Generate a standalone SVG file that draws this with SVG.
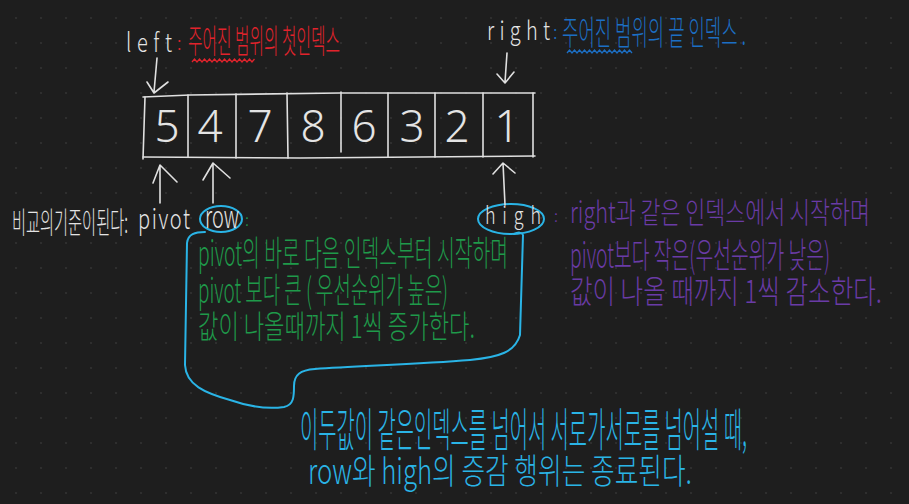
<svg xmlns="http://www.w3.org/2000/svg" width="909" height="504" viewBox="0 0 909 504">
<defs>
<pattern id="dots" x="4" y="6" width="25" height="25" patternUnits="userSpaceOnUse">
<circle cx="12" cy="12" r="1.1" fill="#323232"/>
</pattern>
<style>
.t{font-family:"Noto Sans CJK KR","Noto Sans",sans-serif;font-weight:300}
.w{fill:#e4e4e4}
.r{fill:#e2232c}
.b{fill:#1c6fc4}
.c{fill:#2ab4e6}
.p{fill:#6a3ba6}
.g{fill:#1f9a4a}
.ln{fill:none;stroke:#e0e0e0;stroke-width:1.6;stroke-linecap:round;stroke-linejoin:round}
.cy{fill:none;stroke:#2ab4e6;stroke-width:2;stroke-linecap:round;stroke-linejoin:round}
.dg{font-family:"Noto Sans","DejaVu Sans",sans-serif;font-weight:300;font-size:44px;fill:#e4e4e4;text-anchor:middle}
</style>
</defs>
<rect width="909" height="504" fill="#1e1e1e"/>
<rect width="909" height="504" fill="url(#dots)"/>

<g id="label-left">
<text class="t w" transform="translate(126 52) scale(1 1.3)" font-size="20" textLength="46" lengthAdjust="spacing">left</text>
<text class="t r" x="177" y="50" font-size="18">:</text>
<text class="t r" transform="translate(188 53) scale(1 2.05)" font-size="16" textLength="152" lengthAdjust="spacingAndGlyphs">주어진 범위의 첫인덱스</text>
<path d="M192 62 l2.5 -3 l2.5 3 l2.5 -3 l2.5 3 l2.5 -3 l2.5 3 l2.5 -3 l2.5 3 l2.5 -3 l2.5 3 l2.5 -3 l2.5 3 l2.5 -3 l2.5 3 l2.5 -3 l2.5 3 l2.5 -3 l2.5 3 l2.5 -3 l2.5 3 l2.5 -3 l2.5 3 l2.5 -3 l2.5 3 l2.5 -3" fill="none" stroke="#e2232c" stroke-width="1.3"/>
</g>

<g id="label-right">
<text class="t w" transform="translate(487 40) scale(1 1.3)" font-size="20" textLength="63" lengthAdjust="spacing">right</text>
<text class="t b" x="553" y="39" font-size="18">:</text>
<text class="t b" transform="translate(562 45) scale(1 2.1)" font-size="16" textLength="184" lengthAdjust="spacingAndGlyphs">주어진 범위의 끝 인덱스 .</text>
<path d="M567 53 l2.5 -3 l2.5 3 l2.5 -3 l2.5 3 l2.5 -3 l2.5 3 l2.5 -3 l2.5 3 l2.5 -3 l2.5 3 l2.5 -3 l2.5 3 l2.5 -3 l2.5 3 l2.5 -3 l2.5 3 l2.5 -3 l2.5 3 l2.5 -3 l2.5 3 l2.5 -3 l2.5 3 l2.5 -3 l2.5 3 l2.5 -3 l2.5 3" fill="none" stroke="#1c6fc4" stroke-width="1.3"/>
</g>

<g id="array">
<path class="ln" d="M143 97 L190 95 L340 93 L535 93"/>
<path class="ln" d="M143 157 L300 158 L535 156"/>
<path class="ln" d="M145 97 L143 159"/>
<path class="ln" d="M533 93 L533 157"/>
<path class="ln" d="M188 95 L188 157 M236 94 L236 158 M287 93 L288 158 M341 92 L341 152 M388 93 L388 157 M435 93 L435 157 M483 93 L483 157"/>
<text class="dg" x="167" y="142">5</text>
<text class="dg" x="210" y="142">4</text>
<text class="dg" x="260" y="142">7</text>
<text class="dg" x="313" y="142">8</text>
<text class="dg" x="364" y="142">6</text>
<text class="dg" x="412" y="142">3</text>
<text class="dg" x="457" y="142">2</text>
<text class="dg" x="507" y="142">1</text>
</g>

<g id="label-pivot">
<text class="t w" transform="translate(12 233) scale(1 1.95)" font-size="15" textLength="116" lengthAdjust="spacingAndGlyphs">비교의기준이된다:</text>
<text class="t w" transform="translate(138 229) scale(1 1.4)" font-size="20" textLength="52" lengthAdjust="spacing">pivot</text>
</g>

<g id="label-row">
<ellipse class="cy" cx="221" cy="219" rx="21" ry="13"/>
<text class="t w" transform="translate(205 228) scale(1 1.4)" font-size="22" textLength="34" lengthAdjust="spacingAndGlyphs">row</text>
<text class="t g" x="245" y="226" font-size="16">:</text>
</g>

<g id="label-high">
<ellipse class="cy" cx="511" cy="219" rx="33" ry="15"/>
<text class="t w" transform="translate(485 224) scale(1 1.35)" font-size="18" textLength="56" lengthAdjust="spacing">high</text>
<text class="t p" x="554" y="222" font-size="16">:</text>
</g>

<g id="note-row">
<text class="t g" transform="translate(198 266) scale(1 1.95)" font-size="18" textLength="310" lengthAdjust="spacingAndGlyphs">pivot의 바로 다음 인덱스부터 시작하며</text>
<text class="t g" transform="translate(198 303) scale(1 2.05)" font-size="17" textLength="250" lengthAdjust="spacingAndGlyphs">pivot 보다 큰 ( 우선순위가 높은)</text>
<text class="t g" transform="translate(198 338) scale(1 1.6)" font-size="20" textLength="277" lengthAdjust="spacingAndGlyphs">값이 나올때까지 1씩 증가한다.</text>
</g>

<g id="note-high">
<text class="t p" transform="translate(570 223) scale(1 1.5)" font-size="20" textLength="300" lengthAdjust="spacingAndGlyphs">right과 같은 인덱스에서 시작하며</text>
<text class="t p" transform="translate(570 268) scale(1 1.95)" font-size="18" textLength="260" lengthAdjust="spacingAndGlyphs">pivot보다 작은(우선순위가 낮은)</text>
<text class="t p" transform="translate(570 303) scale(1 1.45)" font-size="22" textLength="312" lengthAdjust="spacingAndGlyphs">값이 나올 때까지 1씩 감소한다.</text>
</g>

<g id="note-end">
<text class="t c" transform="translate(300 446) scale(1 2.3)" font-size="20" textLength="447" lengthAdjust="spacingAndGlyphs">이두값이 같은인덱스를 넘어서 서로가서로를 넘어설 때,</text>
<text class="t c" transform="translate(308 484) scale(1 1.6)" font-size="22" textLength="384" lengthAdjust="spacingAndGlyphs">row와 high의 증감 행위는 종료된다.</text>
</g>

<g id="connectors">
<path class="ln" d="M157 58 L154 92 M147 82 L154 93 L168 82"/>
<path class="ln" d="M507 53 L505 82 M497 74 L505 83 L514 72"/>
<path class="ln" d="M160 203 L160 165 M153 183 L160 165 L177 182"/>
<path class="ln" d="M213 203 L213 163 M203 180 L213 163 L230 178"/>
<path class="ln" d="M505 205 L503 163 M493 174 L503 163 L515 173"/>
<path class="cy" d="M205 232 C195 232 188 234 187 243 L185 365 C186 385 205 393 230 400 C250 407 270 409 284 407 C294 405 294 396 294 386 C294 375 300 370 315 369 C360 366 420 364 470 360 C500 357 515 352 520 335 L523 235 C522 232 518 232 514 234"/>
</g>
</svg>
